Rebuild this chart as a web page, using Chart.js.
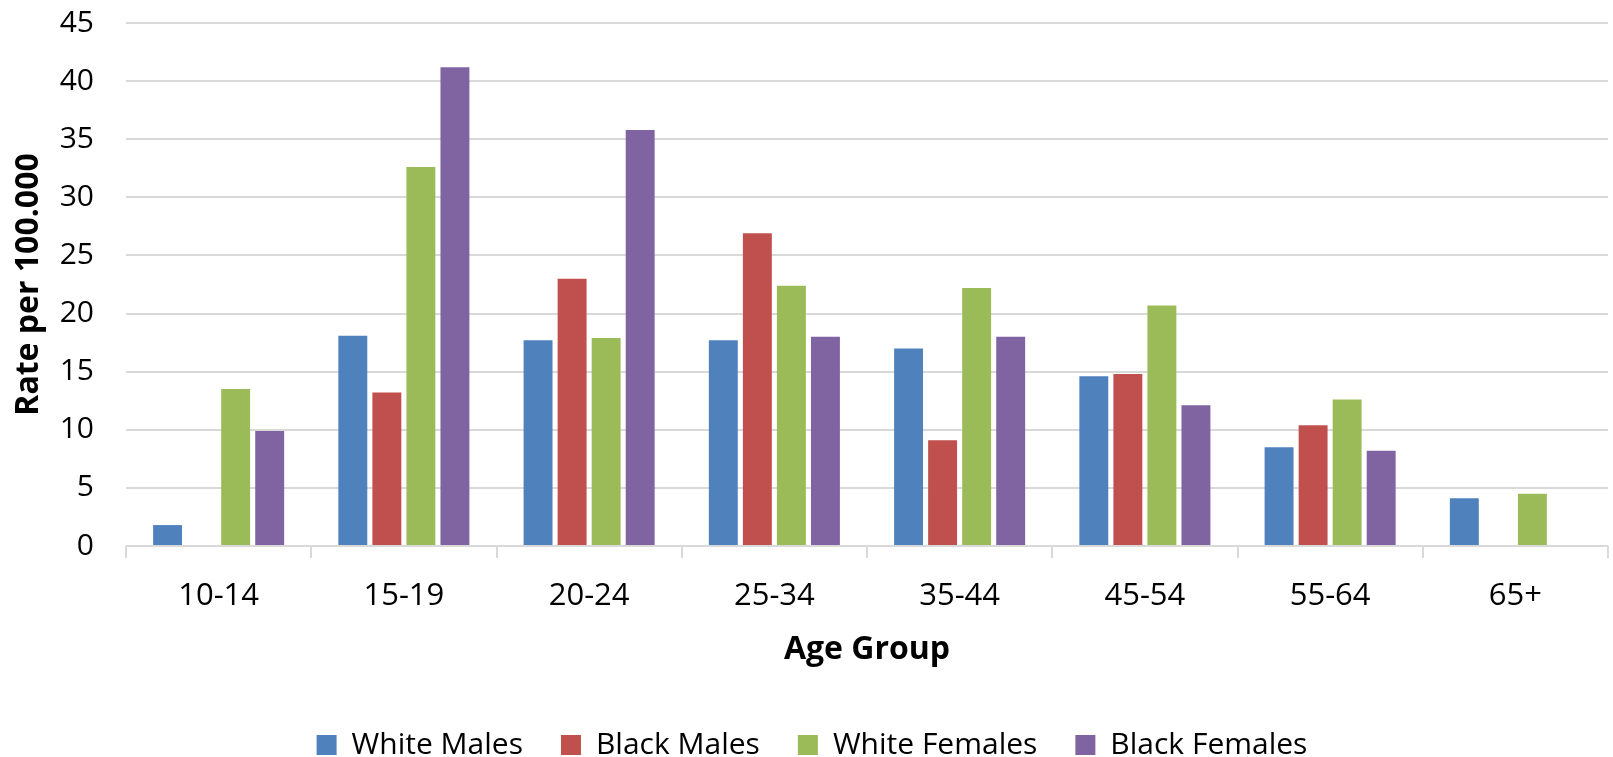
<!DOCTYPE html>
<html>
<head>
<meta charset="utf-8">
<script src="https://cdn.jsdelivr.net/npm/chart.js@4/dist/chart.umd.min.js"></script>
<style>
  html, body { margin: 0; padding: 0; background: #fff; }
  #wrap { width: 1613px; height: 757px; }
</style>
</head>
<body>
<div id="wrap"><canvas id="rates"></canvas></div>
<script>
const ageGroups = ['10-14', '15-19', '20-24', '25-34', '35-44', '45-54', '55-64', '65+'];
const whiteMales = [1.8, 18.1, 17.7, 17.7, 17.0, 14.6, 8.5, 4.1];
const blackMales = [null, 13.2, 23.0, 26.9, 9.1, 14.8, 10.4, null];
const whiteFemales = [13.5, 32.6, 17.9, 22.4, 22.2, 20.7, 12.6, 4.5];
const blackFemales = [9.9, 41.2, 35.8, 18.0, 18.0, 12.1, 8.2, null];

const font = 'Open Sans';
const gridColor = '#D9D9D9';
const legendGap = 38;

function series(label, data, color) {
	return {
		label: label,
		data: data,
		backgroundColor: color,
		borderWidth: 0,
		categoryPercentage: 0.735,
		barPercentage: 0.85
	};
}

const ctx = document.querySelector('#rates').getContext('2d');
const chart = new Chart(ctx, {
	type: 'bar',
	data: {
		labels: ageGroups,
		datasets: [
			series('White Males', whiteMales, '#4F81BD'),
			series('Black Males', blackMales, '#C0504D'),
			series('White Females', whiteFemales, '#9BBB59'),
			series('Black Females', blackFemales, '#8064A2')
		]
	},
	options: {
		responsive: true,
		maintainAspectRatio: false,
		animation: false,
		layout: {
			padding: {top: 23, right: 5, left: 16, bottom: -13}
		},
		scales: {
			x: {
				grid: {
					drawOnChartArea: false,
					color: gridColor,
					lineWidth: 2,
					tickLength: 12
				},
				border: {display: false},
				ticks: {
					color: '#000',
					font: {family: font, size: 31},
					padding: 20,
					maxRotation: 0
				},
				title: {
					display: true,
					text: 'Age Group',
					color: '#000',
					font: {family: font, size: 32, weight: 'bold'},
					padding: {top: 4, bottom: 23}
				},
				afterFit: function(scale) {
					scale.height = 184 - legendGap;
				}
			},
			y: {
				min: 0,
				max: 45,
				grid: {
					color: gridColor,
					lineWidth: 2,
					drawTicks: false
				},
				border: {display: false},
				ticks: {
					stepSize: 5,
					color: '#000',
					font: {family: font, size: 30},
					padding: 32
				},
				title: {
					display: true,
					text: 'Rate per 100.000',
					color: '#000',
					font: {family: font, size: 32, weight: 'bold'},
					padding: {top: -6, bottom: 0}
				},
				afterFit: function(scale) {
					scale.width = 110;
					scale.paddingTop = 0;
					scale.paddingBottom = 0;
				}
			}
		},
		plugins: {
			legend: {
				position: 'bottom',
				labels: {
					color: '#000',
					font: {family: font, size: 30},
					boxWidth: 20,
					boxHeight: 20,
					padding: legendGap
				}
			},
			tooltip: {enabled: false}
		}
	}
});
</script>
</body>
</html>
